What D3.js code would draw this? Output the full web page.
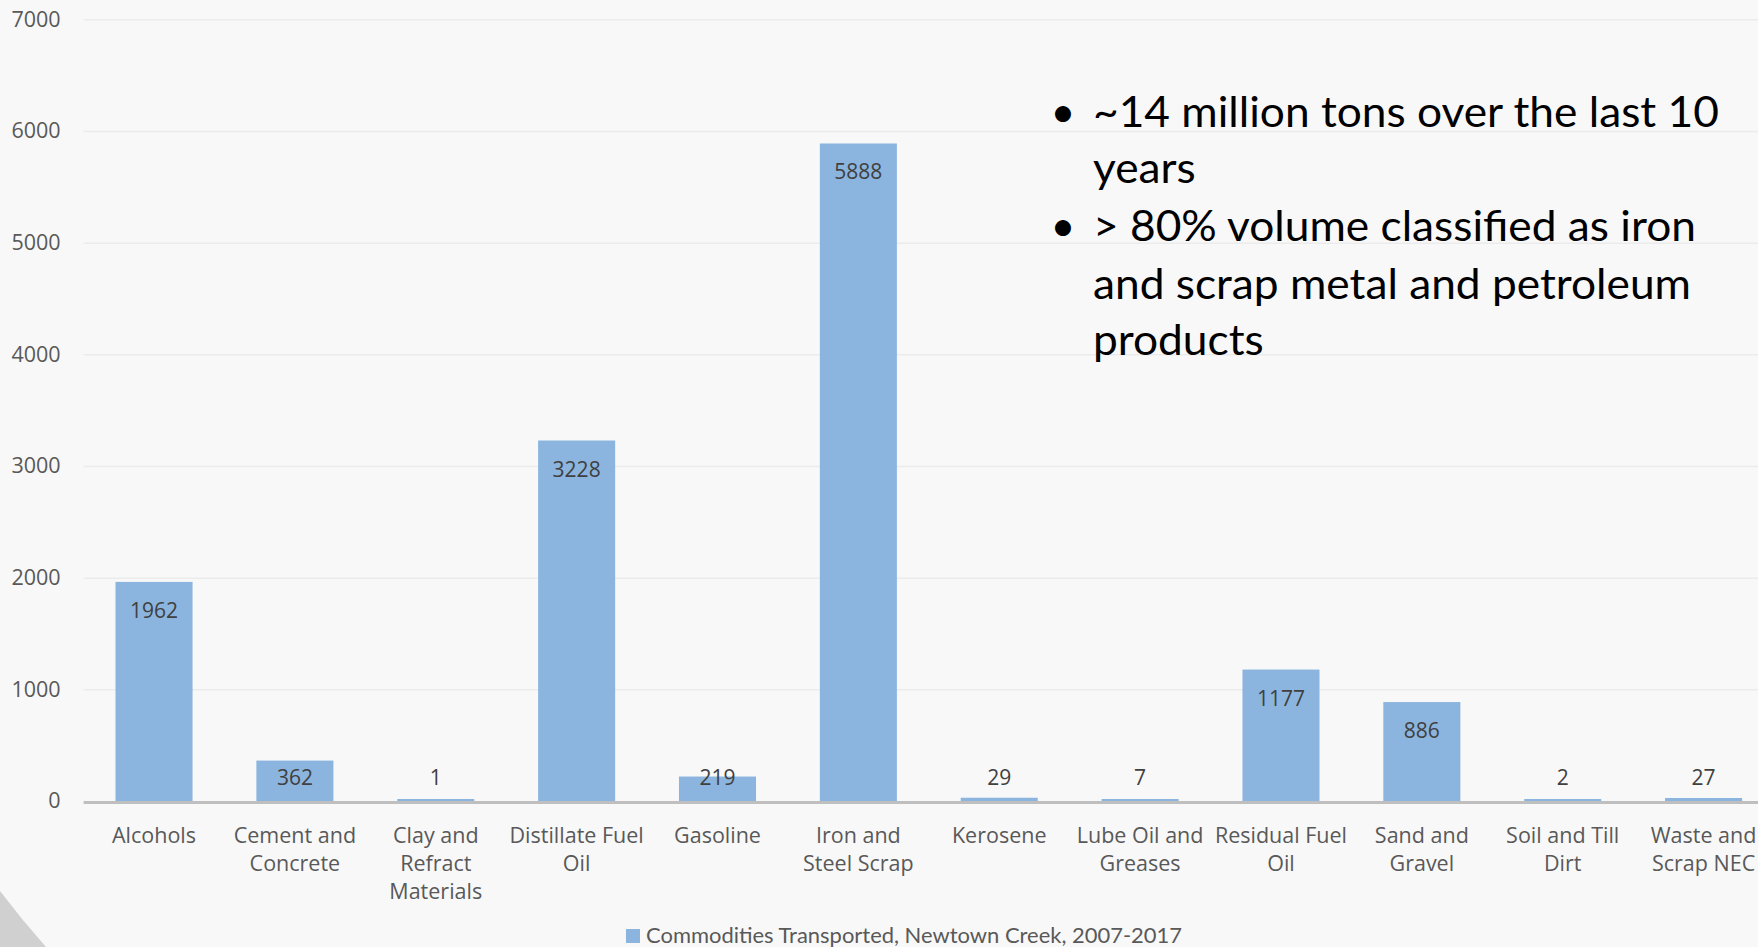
<!DOCTYPE html>
<html>
<head>
<meta charset="utf-8">
<script src="https://cdn.jsdelivr.net/npm/d3@7"></script>
<style>
html,body{margin:0;padding:0;background:#f8f8f8;overflow:hidden}
</style>
</head>
<body>
<svg id="chart" width="1758" height="947"></svg>
<script>
// ---- data ----
const categories = [
  "Alcohols",
  "Cement and\nConcrete",
  "Clay and\nRefract\nMaterials",
  "Distillate Fuel\nOil",
  "Gasoline",
  "Iron and\nSteel Scrap",
  "Kerosene",
  "Lube Oil and\nGreases",
  "Residual Fuel\nOil",
  "Sand and\nGravel",
  "Soil and Till\nDirt",
  "Waste and\nScrap NEC"
];
const values = [1962, 362, 1, 3228, 219, 5888, 29, 7, 1177, 886, 2, 27];
const yTicks = [0, 1000, 2000, 3000, 4000, 5000, 6000, 7000];
const seriesName = "Commodities Transported, Newtown Creek, 2007-2017";
const bulletParagraphs = [
  ["~14 million tons over the last 10", "years"],
  ["> 80% volume classified as iron", "and scrap metal and petroleum", "products"]
];

// ---- styles ----
const W = 1758, H = 947;
const barColor = "#8bb5df";
const axisFont = "'Open Sans', 'Noto Sans', sans-serif";
const calFont = "Lato, 'Open Sans', sans-serif";

const svg = d3.select("#chart");
svg.append("rect").attr("width", W).attr("height", H).attr("fill", "#f8f8f8");

// decorative corner arc (slide background)
svg.append("path")
  .attr("d", "M0,891 A900,900 0 0 0 46,947 L0,947 Z")
  .attr("fill", "#d0d0d0");

const plotLeft = 83.6, plotRight = 1774;
const x = d3.scaleBand()
  .domain(categories)
  .range([plotLeft, plotRight])
  .paddingInner(0.453)
  .paddingOuter(0.2265);
const y = d3.scaleLinear().domain([0, 7000]).range([801, 19.3]);

// gridlines + tick labels
const yAxis = svg.append("g")
  .attr("transform", `translate(${plotLeft},0)`)
  .call(d3.axisLeft(y).tickValues(yTicks).tickSize(-(W - plotLeft)).tickPadding(23).tickFormat(d3.format("d")));
yAxis.select(".domain").remove();
yAxis.selectAll(".tick line").attr("stroke", "#ebebeb").attr("stroke-width", 1.5)
  .filter(d => d === 0).remove();
yAxis.selectAll(".tick text")
  .attr("fill", "#595959")
  .style("font-family", axisFont)
  .style("font-size", "21.5px");

// bars
svg.append("g").selectAll("rect")
  .data(values)
  .join("rect")
  .attr("x", (d, i) => x(categories[i]))
  .attr("width", x.bandwidth())
  .attr("y", d => y(0) - Math.max(2, y(0) - y(d)))
  .attr("height", d => Math.max(2, y(0) - y(d)))
  .attr("fill", barColor);

// zero axis line
svg.append("line")
  .attr("x1", plotLeft).attr("x2", W)
  .attr("y1", y(0) + 1.5).attr("y2", y(0) + 1.5)
  .attr("stroke", "#bfbfbf").attr("stroke-width", 3);

// data labels (inside end)
svg.append("g").selectAll("text")
  .data(values)
  .join("text")
  .attr("x", (d, i) => x(categories[i]) + x.bandwidth() / 2)
  .attr("y", d => Math.min(y(d) + 36, y(0) - 16))
  .attr("text-anchor", "middle")
  .attr("fill", "#404040")
  .style("font-family", axisFont)
  .style("font-size", "21px")
  .text(d => d);

// category labels
const catG = svg.append("g").selectAll("text")
  .data(categories)
  .join("text")
  .attr("text-anchor", "middle")
  .attr("fill", "#595959")
  .style("font-family", axisFont)
  .style("font-size", "21.5px");
catG.each(function(c) {
  const t = d3.select(this);
  const cx = x(c) + x.bandwidth() / 2;
  c.split("\n").forEach((line, k) => {
    t.append("tspan").attr("x", cx).attr("y", 842.5 + k * 28.3).text(line);
  });
});

// legend
svg.append("rect")
  .attr("x", 626).attr("y", 929).attr("width", 14).attr("height", 14)
  .attr("fill", barColor);
svg.append("text")
  .attr("x", 646).attr("y", 943)
  .attr("fill", "#595959")
  .style("font-family", calFont)
  .style("font-size", "21.5px")
  .attr("textLength", 536)
  .attr("lengthAdjust", "spacingAndGlyphs")
  .text(seriesName);

// bullet text block
const bulletBaselines = [[127, 183], [241, 299, 355]];
const bg = svg.append("g");
const textX = 1093;
const lineEls = [];
bulletParagraphs.forEach((para, p) => {
  bg.append("text")
    .attr("x", 1063).attr("y", bulletBaselines[p][0])
    .attr("text-anchor", "middle")
    .attr("fill", "#000")
    .style("font-family", calFont)
    .style("font-size", "43px")
    .text("\u2022");
  para.forEach((line, k) => {
    const el = bg.append("text")
      .attr("x", textX).attr("y", bulletBaselines[p][k])
      .attr("fill", "#000")
      .style("font-family", calFont)
      .style("font-size", "43px")
      .text(line);
    lineEls.push(el);
  });
});
// fit the first line's width to the reference and apply the same horizontal factor to all lines
const natural = lineEls[0].node().getComputedTextLength();
const factor = 626 / natural;
lineEls.forEach(el => {
  el.attr("transform", `translate(${textX},0) scale(${factor},1) translate(${-textX},0)`);
});
</script>
</body>
</html>
